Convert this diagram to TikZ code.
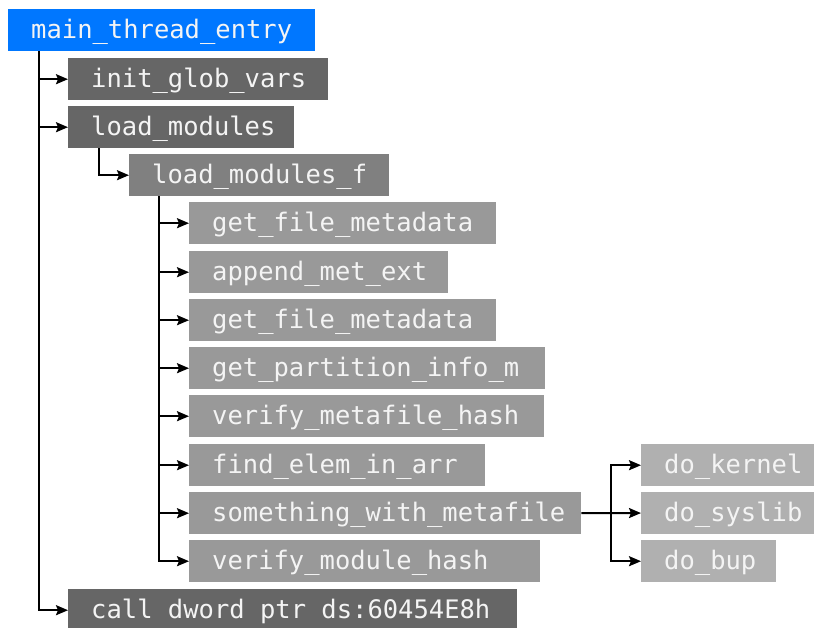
\documentclass[tikz,border=0pt]{standalone}
\usepackage{fontspec}
\setmonofont{DejaVu Sans Mono}
\usetikzlibrary{arrows.meta}
\definecolor{entryblue}{HTML}{0077FF}
\definecolor{levelA}{HTML}{666666}
\definecolor{levelB}{HTML}{808080}
\definecolor{levelC}{HTML}{999999}
\definecolor{levelD}{HTML}{B0B0B0}
\definecolor{labeltext}{HTML}{F4F4F4}
% one full monospaced cell of blank space
\newcommand{\cellspace}{\hspace*{0.6021em}}
\tikzset{
  fn/.style={anchor=north west, minimum height=42pt, inner xsep=23pt, inner ysep=0pt,
    text height=20pt, text depth=3pt, align=left, text=labeltext,
    font=\ttfamily\fontsize{25.5}{28}\selectfont},
  entry/.style={fn, fill=entryblue},
  lvA/.style={fn, fill=levelA},
  lvB/.style={fn, fill=levelB},
  lvC/.style={fn, fill=levelC},
  lvD/.style={fn, fill=levelD},
  wire/.style={line width=2pt, black},
  arr/.style={wire, -{Stealth[length=12pt, width=10pt, inset=2pt]}},
}
\begin{document}
\begin{tikzpicture}[x=1pt, y=-1pt]
  \useasboundingbox[fill=white] (0,0) rectangle (814,627);

  % call tree, one row per function
  \node[entry, text width=261pt] (mte) at (8,9) {main\_thread\_entry};
  \node[lvA, text width=214pt] (igv) at (68,58) {init\_glob\_vars};
  \node[lvA, text width=180pt] (lm) at (68,106) {load\_modules};
  \node[lvB, text width=214pt] (lmf) at (129,154) {load\_modules\_f};
  \node[lvC, text width=261pt] (gfm1) at (189,202) {get\_file\_metadata};
  \node[lvC, text width=213pt] (ame) at (189,251) {append\_met\_ext};
  \node[lvC, text width=261pt] (gfm2) at (189,299) {get\_file\_metadata};
  \node[lvC, text width=310pt] (gpi) at (189,347) {get\_partition\_info\_m};
  \node[lvC, text width=309pt] (vmh) at (189,395) {verify\_metafile\_hash};
  \node[lvC, text width=250pt] (fea) at (189,444) {find\_elem\_in\_arr};
  \node[lvC, text width=346pt] (swm) at (189,492) {something\_with\_metafile};
  \node[lvC, text width=305pt] (vmod) at (189,540) {verify\_module\_hash};
  \node[lvA, text width=403pt] (call) at (68,589)
    {call\cellspace dword\cellspace ptr\cellspace ds:60454E8h};
  \node[lvD, text width=127pt] (dk) at (641,444) {do\_kernel};
  \node[lvD, text width=127pt] (ds) at (641,492) {do\_syslib};
  \node[lvD, text width=89pt] (db) at (641,540) {do\_bup};

  % branch points of the tree
  \coordinate (t0) at (39,51);
  \coordinate (t1) at (99,148);
  \coordinate (t2) at (159,196);
  \coordinate (t3) at (611,513);

  \draw[arr] (t0) |- (igv);
  \draw[arr] (t0) |- (lm);
  \draw[arr] (t0) |- (call);
  \draw[arr] (t1) |- (lmf);
  \foreach \n in {gfm1,ame,gfm2,gpi,vmh,fea,swm,vmod}
    \draw[arr] (t2) |- (\n);
  \draw[wire] (swm.east) -- (t3);
  \draw[arr] (t3) |- (dk);
  \draw[arr] (t3) -- (ds);
  \draw[arr] (t3) |- (db);
\end{tikzpicture}
\end{document}
